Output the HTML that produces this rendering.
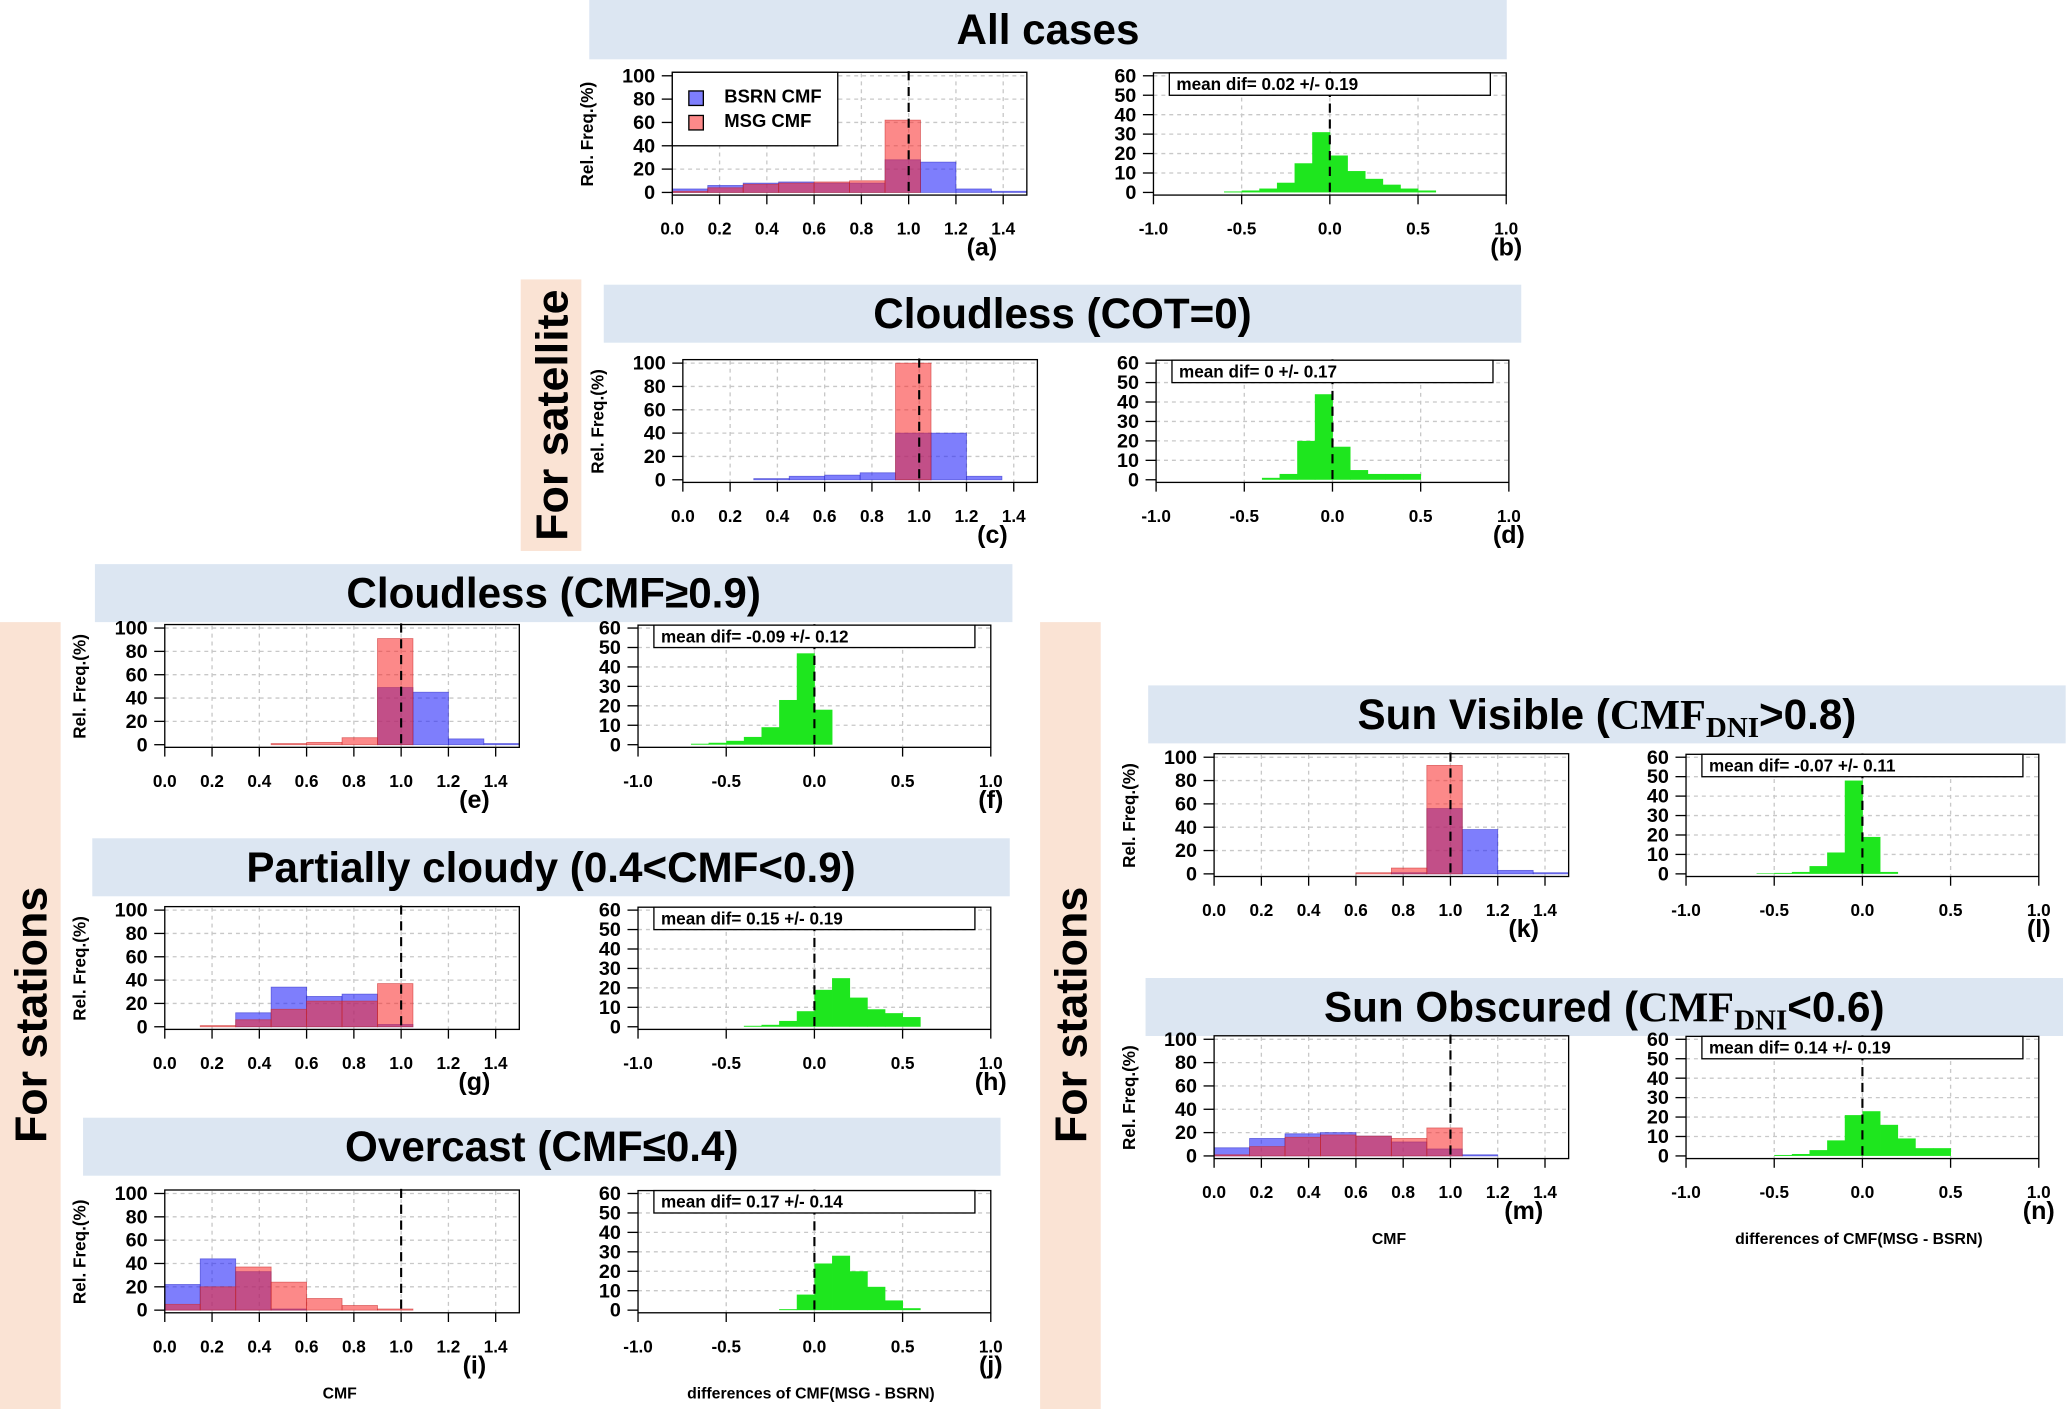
<!DOCTYPE html>
<html><head><meta charset="utf-8"><style>
html,body{margin:0;padding:0;background:#fff;}
svg{display:block;font-family:"Liberation Sans",Arial,sans-serif;}
</style></head><body>
<svg id="fig" xmlns="http://www.w3.org/2000/svg" width="2067" height="1409" viewBox="0 0 1568 1069" preserveAspectRatio="none"></svg>
<script>
// ---- data ----
const histBins = [0,0.15,0.3,0.45,0.6,0.75,0.9,1.05,1.2,1.35];
const histXTicks = ["0.0","0.2","0.4","0.6","0.8","1.0","1.2","1.4"];
const histYTicks = [0,20,40,60,80,100];
const diffBins = [-1,-0.9,-0.8,-0.7,-0.6,-0.5,-0.4,-0.3,-0.2,-0.1,0,0.1,0.2,0.3,0.4,0.5,0.6,0.7,0.8,0.9];
const diffXTicks = ["-1.0","-0.5","0.0","0.5","1.0"];
const diffYTicks = [0,10,20,30,40,50,60];

const blueA = [3,6,8,9,8,8,28,26,3,1];
const redA  = [1,4,7,8,9,10,62,0,0,0];
const diffB = [0,0,0,0,0.5,1,2,5,15,31,19,11,7,4,2,1,0,0,0,0];
const blueC = [0,0,1,3,4,6,40,40,3,0];
const redC  = [0,0,0,0,0,0,100,0,0,0];
const diffD = [0,0,0,0,0,0,1,3,20,44,17,5,3,3,3,0,0,0,0,0];
const blueE = [0,0,0,0,0,0,49,45,5,1];
const redE  = [0,0,0,1,2,6,91,0,0,0];
const diffF = [0,0,0,0.5,1,2,4,9,23,47,18,0,0,0,0,0,0,0,0,0];
const blueG = [0,0,12,34,26,28,2,0,0,0];
const redG  = [0,1,6,15,22,22,37,0,0,0];
const diffH = [0,0,0,0,0,0,0.5,1,3,8,19,25,15,9,7,5,0,0,0,0];
const blueI = [22,44,33,1,0,0,0,0,0,0];
const redI  = [5,20,37,24,10,4,1,0,0,0];
const diffJ = [0,0,0,0,0,0,0,0,0.5,8,24,28,20,12,5,1,0,0,0,0];
const blueK = [0,0,0,0,0,1,56,38,3,1];
const redK  = [0,0,0,0,1,5,93,0,0,0];
const diffL = [0,0,0,0,0.3,0.5,1,4,11,48,19,1,0,0,0,0,0,0,0,0];
const blueM = [7,15,19,20,17,12,6,1,0,0];
const redM  = [1,8,16,18,17,15,24,0,0,0];
const diffN = [0,0,0,0,0,0.5,1,3,8,21,23,16,9,4,4,0,0,0,0,0];

const meanB = "mean dif= 0.02 +/- 0.19";
const meanD = "mean dif= 0 +/- 0.17";
const meanF = "mean dif= -0.09 +/- 0.12";
const meanH = "mean dif= 0.15 +/- 0.19";
const meanJ = "mean dif= 0.17 +/- 0.14";
const meanL = "mean dif= -0.07 +/- 0.11";
const meanN = "mean dif= 0.14 +/- 0.19";

const NS = "http://www.w3.org/2000/svg";
const svg = document.getElementById('fig');
function mk(tag, attrs, parent, txt){
  const e = document.createElementNS(NS, tag);
  for (const k in attrs) e.setAttribute(k, attrs[k]);
  if (txt !== undefined) e.textContent = txt;
  (parent || svg).appendChild(e);
  return e;
}

// ---- background bands ----
function band(x,y,w,h,fill,name){
  const r = mk('rect',{x:x,y:y,width:w,height:h,fill:fill});
  
  
}
band(395,212,46,206,'#fae3d4','satellite-band');
band(0,472,46,597,'#fae3d4','stations-band-left');
band(789,472,46,597,'#fae3d4','stations-band-right');
function vlabel(cx,cy,t,name){
  const e = mk('text',{x:cx,y:cy,transform:'rotate(-90 '+cx+' '+cy+')','text-anchor':'middle','dominant-baseline':'central','font-size':34,'font-weight':'bold',fill:'#000'},null,t);
  
  
}
vlabel(419,315,'For satellite','satellite-label');
vlabel(24,770,'For stations','stations-label-left');
vlabel(813,770,'For stations','stations-label-right');

function title(x,y,w,h,parts,name){
  const g = mk('g',{});
  
  
  mk('rect',{x:x,y:y,width:w,height:h,fill:'#dce6f2'},g);
  const t = mk('text',{x:x+w/2,y:y+h/2+11,'text-anchor':'middle','font-size':32,'font-weight':'bold',fill:'#000'},g);
  parts.forEach(p=>{
    mk('tspan', p.sub?{'font-size':22,dy:6,'font-family':'"Liberation Serif",serif'}:(p.after?{dy:-6}:(p.serif?{'font-family':'"Liberation Serif",serif'}:{})), t, p.t);
  });
}
title(447,0,696,45,[{t:'All cases'}],'title-all-cases');
title(458,216,696,44,[{t:'Cloudless (COT=0)'}],'title-cloudless-cot');
title(72,428,696,44,[{t:'Cloudless (CMF≥0.9)'}],'title-cloudless-cmf');
title(70,636,696,44,[{t:'Partially cloudy (0.4<CMF<0.9)'}],'title-partially-cloudy');
title(63,848,696,44,[{t:'Overcast (CMF≤0.4)'}],'title-overcast');
title(871,520,696,44,[{t:'Sun Visible ('},{t:'CMF',serif:true},{t:'DNI',sub:true},{t:'>0.8)',after:true}],'title-sun-visible');
title(869,742,696,44,[{t:'Sun Obscured ('},{t:'CMF',serif:true},{t:'DNI',sub:true},{t:'<0.6)',after:true}],'title-sun-obscured');

// ---- charts ----
function histPanel(x0, y0, blue, red, letter, legend, xlab){
  const sx = v => x0 + v*179.3;
  const sy = v => y0 - v*0.885;
  const g = mk('g',{});
  
  
  histXTicks.forEach((t,i)=>{ if(i>0){ mk('line',{x1:sx(i*0.2),x2:sx(i*0.2),y1:sy(102),y2:y0+2,stroke:'#c8c8c8','stroke-dasharray':'3,3'},g);} });
  histYTicks.forEach(v=>{ if(v>0) mk('line',{x1:sx(0),x2:sx(1.5),y1:sy(v),y2:sy(v),stroke:'#c8c8c8','stroke-dasharray':'3,3'},g); });
  histBins.forEach((b,i)=>{
    if(blue[i]>0){
      const r = mk('rect',{x:sx(b),y:sy(blue[i]),width:sx(b+0.15)-sx(b),height:y0-sy(blue[i]),fill:'rgba(40,40,250,0.6)',stroke:'rgba(40,40,200,0.6)','stroke-width':0.6},g);
      
      
    }
  });
  histBins.forEach((b,i)=>{
    if(red[i]>0){
      const r = mk('rect',{x:sx(b),y:sy(red[i]),width:sx(b+0.15)-sx(b),height:y0-sy(red[i]),fill:'rgba(250,40,40,0.55)',stroke:'rgba(200,40,40,0.6)','stroke-width':0.6},g);
      
      
    }
  });
  mk('line',{x1:sx(1),x2:sx(1),y1:sy(104),y2:y0,stroke:'#000','stroke-width':1.6,'stroke-dasharray':'7,5'},g);
  mk('rect',{x:sx(0),y:sy(103),width:sx(1.5)-sx(0),height:y0+2-sy(103),fill:'none',stroke:'#000','stroke-width':1},g);
  histXTicks.forEach((t,i)=>{
    const x = sx(i*0.2);
    mk('line',{x1:x,x2:x,y1:y0+2,y2:y0+9,stroke:'#000'},g);
    const e = mk('text',{x:x,y:y0+32,'text-anchor':'middle','font-size':13,'font-weight':'bold'},g,t);
    
    
  });
  histYTicks.forEach(v=>{
    mk('line',{x1:sx(0)-8,x2:sx(0),y1:sy(v),y2:sy(v),stroke:'#000'},g);
    mk('text',{x:sx(0)-13,y:sy(v)+5,'text-anchor':'end','font-size':15,'font-weight':'bold'},g,String(v));
  });
  const yx = sx(0)-60;
  const yl = mk('text',{x:yx,y:sy(50),transform:'rotate(-90 '+yx+' '+sy(50)+')','text-anchor':'middle','font-size':13,'font-weight':'bold'},g,'Rel. Freq.(%)');
  
  
  mk('text',{x:sx(1.31),y:y0+48,'text-anchor':'middle','font-size':19,'font-weight':'bold'},g,'('+letter+')');
  if(xlab){
    const xl = mk('text',{x:sx(0.74),y:y0+67,'text-anchor':'middle','font-size':12,'font-weight':'bold'},g,'CMF');
    
    
  }
  if(legend){
    const lg = mk('g',{},g);
    
    
    mk('rect',{x:sx(0),y:sy(103),width:sx(0.7)-sx(0),height:sy(40)-sy(103),fill:'#fff',stroke:'#000'},lg);
    mk('rect',{x:sx(0.07),y:sy(87),width:11,height:11,fill:'rgba(40,40,250,0.6)',stroke:'#000'},lg);
    mk('text',{x:sx(0.22),y:sy(77),'font-size':14,'font-weight':'bold'},lg,'BSRN CMF');
    mk('rect',{x:sx(0.07),y:sy(66),width:11,height:11,fill:'rgba(250,40,40,0.55)',stroke:'#000'},lg);
    mk('text',{x:sx(0.22),y:sy(56),'font-size':14,'font-weight':'bold'},lg,'MSG CMF');
  }
}
function diffPanel(x0, y0, vals, mean, letter, xlab){
  const sx = v => x0 + (v+1)*133.8;
  const sy = v => y0 - v*1.475;
  const g = mk('g',{});
  
  
  [-0.5,0,0.5].forEach(v=>mk('line',{x1:sx(v),x2:sx(v),y1:sy(61),y2:y0+2,stroke:'#c8c8c8','stroke-dasharray':'3,3'},g));
  diffYTicks.forEach(v=>{ if(v>0) mk('line',{x1:sx(-1),x2:sx(1),y1:sy(v),y2:sy(v),stroke:'#c8c8c8','stroke-dasharray':'3,3'},g); });
  diffBins.forEach((b,i)=>{
    if(vals[i]>0){
      const r = mk('rect',{x:sx(b),y:sy(vals[i]),width:sx(b+0.1)-sx(b)+0.3,height:y0-sy(vals[i]),fill:'#1ee61e'},g);
      
      
    }
  });
  mk('line',{x1:sx(0),x2:sx(0),y1:sy(62),y2:y0,stroke:'#000','stroke-width':1.6,'stroke-dasharray':'7,5'},g);
  mk('rect',{x:sx(-1),y:sy(61.5),width:sx(1)-sx(-1),height:y0+2-sy(61.5),fill:'none',stroke:'#000'},g);
  const mb = mk('g',{},g);
  
  
  mk('rect',{x:sx(-0.91),y:sy(61.5),width:sx(0.91)-sx(-0.91),height:17,fill:'#fff',stroke:'#000'},mb);
  mk('text',{x:sx(-0.87),y:sy(61.5)+13,'font-size':13,'font-weight':'bold'},mb,mean);
  diffXTicks.forEach((t,i)=>{
    const x = sx(-1+i*0.5);
    mk('line',{x1:x,x2:x,y1:y0+2,y2:y0+9,stroke:'#000'},g);
    const e = mk('text',{x:x,y:y0+32,'text-anchor':'middle','font-size':13,'font-weight':'bold'},g,t);
    
    
  });
  diffYTicks.forEach(v=>{
    mk('line',{x1:sx(-1)-8,x2:sx(-1),y1:sy(v),y2:sy(v),stroke:'#000'},g);
    mk('text',{x:sx(-1)-13,y:sy(v)+5,'text-anchor':'end','font-size':15,'font-weight':'bold'},g,String(v));
  });
  mk('text',{x:sx(1),y:y0+48,'text-anchor':'middle','font-size':19,'font-weight':'bold'},g,'('+letter+')');
  if(xlab){
    const xl = mk('text',{x:sx(-0.02),y:y0+67,'text-anchor':'middle','font-size':12,'font-weight':'bold'},g,'differences of CMF(MSG - BSRN)');
    
    
  }
}
histPanel(510,146,blueA,redA,'a',true,false);
diffPanel(875,146,diffB,meanB,'b',false);
histPanel(518,364,blueC,redC,'c',false,false);
diffPanel(877,364,diffD,meanD,'d',false);
histPanel(125,565,blueE,redE,'e',false,false);
diffPanel(484,565,diffF,meanF,'f',false);
histPanel(125,779,blueG,redG,'g',false,false);
diffPanel(484,779,diffH,meanH,'h',false);
histPanel(125,994,blueI,redI,'i',false,true);
diffPanel(484,994,diffJ,meanJ,'j',true);
histPanel(921,663,blueK,redK,'k',false,false);
diffPanel(1279,663,diffL,meanL,'l',false);
histPanel(921,877,blueM,redM,'m',false,true);
diffPanel(1279,877,diffN,meanN,'n',true);
</script>
</body></html>
